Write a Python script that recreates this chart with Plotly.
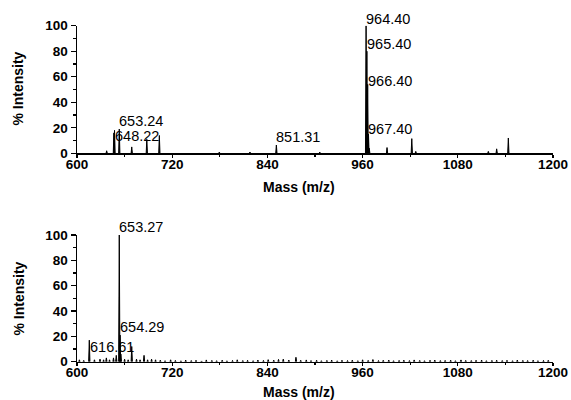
import plotly.graph_objects as go

# ---------------- data ----------------
top_mz = [637.4, 646.5, 647.3, 653.3, 669.0, 688.0, 703.8, 779.4, 818.0, 851.3, 906.0,
          964.4, 965.4, 966.4, 967.4, 968.4, 990.8, 1022.0, 1027.0, 1118.5, 1129.0, 1143.7]
top_int = [2.0, 16.0, 18.0, 19.0, 5.0, 11.0, 14.0, 1.0, 1.0, 6.5, 1.0,
           100.0, 80.0, 54.0, 15.0, 4.0, 4.5, 11.5, 1.5, 1.5, 3.5, 12.0]

bot_mz = [603.0, 608.5, 615.5, 622.0, 629.0, 633.5, 637.0, 641.0, 646.0, 649.5, 653.3, 654.3, 655.3,
          660.0, 664.5, 669.0, 675.0, 679.5, 684.5, 689.0, 694.0, 699.0]
bot_int = [1.5, 1.0, 17.0, 1.5, 2.0, 1.5, 3.0, 1.5, 3.0, 5.0, 100.0, 21.0, 6.0,
           2.0, 1.5, 12.0, 2.0, 1.5, 5.0, 1.5, 2.0, 1.5]

noise_mz = [705, 711, 718, 724, 731, 737, 744, 750, 757, 763, 770, 776, 783, 789, 796, 802,
            809, 815, 822, 828, 835, 841, 848, 854, 860, 867, 876, 882, 889, 895, 902, 908,
            915, 921, 928, 934, 941, 947, 954, 960, 967, 973, 980, 986, 993, 999, 1006, 1012,
            1019, 1025, 1032, 1038, 1045, 1051, 1058, 1064, 1071, 1077, 1084, 1090, 1097, 1103,
            1110, 1116, 1123, 1129, 1136, 1142, 1149, 1155, 1162, 1168, 1175, 1181, 1188, 1194]
noise_int = [1.2, 0.8, 1.5, 1.0, 0.7, 1.3, 0.9, 1.1, 0.6, 1.4, 1.0, 0.8, 1.2, 0.7, 1.0, 1.5,
             0.9, 1.1, 0.8, 1.3, 1.0, 1.6, 1.2, 1.8, 2.0, 1.3, 3.5, 1.1, 1.4, 0.9, 1.2, 0.8,
             1.0, 1.3, 0.7, 1.1, 0.9, 1.2, 0.8, 1.5, 1.0, 1.7, 0.9, 1.1, 1.3, 0.8, 1.0, 1.2,
             0.9, 1.4, 1.0, 0.8, 1.1, 1.3, 0.9, 1.0, 1.2, 0.8, 1.4, 1.0, 0.9, 1.1, 1.3,
             0.8, 1.0, 1.2, 0.9, 1.1, 0.8, 1.3, 1.0, 0.9, 1.2, 0.8, 1.0, 1.1]

top_labels = ["653.24", "648.22", "851.31", "964.40", "965.40", "966.40", "967.40"]
top_label_y = [25.3, 13.2, 12.5, 100.0, 85.7, 57.0, 19.0]
top_label_shift = [0, 0, 0, 6.4, 0, 0, 0]
bot_labels = ["653.27", "654.29", "616.61"]
bot_label_y = [100.0, 27.0, 11.4]
bot_label_shift = [7.7, 0, 0]

x_ticks = [600, 720, 840, 960, 1080, 1200]
y_ticks = [0, 20, 40, 60, 80, 100]

W, H = 571, 400


def px(x):
    return x / W


def py(y):
    return 1 - y / H


def profile(mz, inten, w):
    xs, ys = [], []
    for m, h in sorted(zip(mz, inten)):
        xs += [m - w, m, m + w, None]
        ys += [0, h, 0, None]
    return xs, ys


fig = go.Figure()
tx, ty = profile(top_mz, top_int, 0.8)
fig.add_trace(go.Scatter(x=tx, y=ty, mode="lines", fill="toself", fillcolor="black",
                         line=dict(color="black", width=1), xaxis="x", yaxis="y",
                         hoverinfo="skip", showlegend=False))
bx, by = profile(bot_mz + noise_mz, bot_int + noise_int, 0.8)
fig.add_trace(go.Scatter(x=bx, y=by, mode="lines", fill="toself", fillcolor="black",
                         line=dict(color="black", width=1), xaxis="x2", yaxis="y2",
                         hoverinfo="skip", showlegend=False))

FONT = "Liberation Sans, Arial, sans-serif"
tickfont = dict(family=FONT, size=13.5, color="black", weight="bold")


def xax(anchor):
    return dict(domain=[px(77), px(553)], range=[600, 1200], tickvals=x_ticks,
                ticks="outside", ticklen=3, tickwidth=1.2, tickcolor="black",
                showline=True, linewidth=1.5, linecolor="black", showgrid=False,
                zeroline=False, tickfont=tickfont, anchor=anchor, ticklabelstandoff=-5,
                automargin=False,
                minor=dict(dtick=60, tick0=600, ticks="outside", ticklen=2, tickcolor="black",
                           showgrid=False))


def yax(domain, anchor):
    return dict(domain=domain, range=[0, 100], tickvals=y_ticks,
                ticks="outside", ticklen=5, tickwidth=1.2, tickcolor="black",
                showline=True, linewidth=1.5, linecolor="black", showgrid=False,
                zeroline=False, tickfont=tickfont, anchor=anchor, automargin=False,
                minor=dict(dtick=10, tick0=0, ticks="outside", ticklen=2.5, tickcolor="black",
                           showgrid=False))


annotations = []
lab_font = dict(family=FONT, size=14.5, color="black")
for lab, yy, sh in zip(top_labels, top_label_y, top_label_shift):
    annotations.append(dict(x=float(lab), y=yy, xref="x", yref="y", text=lab, showarrow=False,
                            xanchor="left", yanchor="middle", font=lab_font, xshift=-2, yshift=sh))
for lab, yy, sh in zip(bot_labels, bot_label_y, bot_label_shift):
    annotations.append(dict(x=float(lab), y=yy, xref="x2", yref="y2", text=lab, showarrow=False,
                            xanchor="left", yanchor="middle", font=lab_font, xshift=-2, yshift=sh))

title_font = dict(family=FONT, size=14, color="black", weight="bold")
for yc in [88.5, 298.5]:
    annotations.append(dict(x=px(18), y=py(yc), xref="paper", yref="paper", text="% Intensity",
                            textangle=-90, showarrow=False, xanchor="center", yanchor="middle",
                            font=title_font))
for yc in [187, 392]:
    annotations.append(dict(x=px(299), y=py(yc), xref="paper", yref="paper", text="Mass (m/z)",
                            showarrow=False, xanchor="center", yanchor="middle", font=title_font))

fig.update_layout(
    width=W, height=H,
    margin=dict(l=0, r=0, t=0, b=0),
    paper_bgcolor="white", plot_bgcolor="white",
    xaxis=xax("y"), yaxis=yax([py(153.3), py(25.7)], "x"),
    xaxis2=xax("y2"), yaxis2=yax([py(361.7), py(235)], "x2"),
    annotations=annotations,
    showlegend=False,
)

fig.write_html("out.html", config={"displayModeBar": False, "staticPlot": True},
               post_script="document.body.style.margin='0';document.body.style.overflow='hidden';")
